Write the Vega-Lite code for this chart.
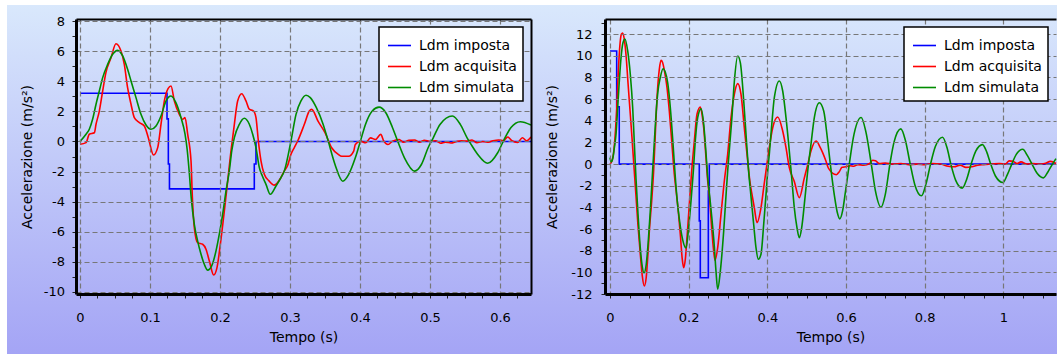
{
  "$schema": "https://vega.github.io/schema/vega-lite/v6.json",
  "background": "white",
  "padding": {"left": 6, "top": 4, "right": 0, "bottom": 0},
  "spacing": -2,
  "resolve": {"scale": {"color": "independent"}, "legend": {"color": "independent"}},
  "config": {
    "view": {"stroke": null},
    "axis": {
      "labelFont": "DejaVu Sans", "labelFontSize": 13, "labelColor": "#000000",
      "titleFont": "DejaVu Sans", "titleFontSize": 14, "titleFontWeight": "normal", "titleColor": "#000000",
      "tickColor": "#222222", "tickSize": 4, "tickWidth": 1,
      "domainColor": "#000000", "domainWidth": 3,
      "gridColor": "#777777", "gridDash": [5, 3], "gridWidth": 1.2,
      "labelOverlap": false, "labelFlush": false
    },
    "legend": {
      "orient": "top-right", "offset": 8, "fillColor": "#ffffff", "strokeColor": "#000000", "strokeWidth": 1.5,
      "padding": 6, "cornerRadius": 0,
      "labelFont": "DejaVu Sans", "labelFontSize": 14, "labelColor": "#000000",
      "symbolType": "stroke", "symbolSize": 529, "symbolStrokeWidth": 1.6, "symbolOffset": 2,
      "rowPadding": 1, "labelOffset": 7
    }
  },
  "datasets": {
    "L_imp": [{"t":0,"a":3.2},{"t":0.1243,"a":1.5},{"t":0.1262,"a":-1.5},{"t":0.1278,"a":-3.15},{"t":0.249,"a":-1.5},{"t":0.2514,"a":0},{"t":0.6443,"a":0}],
    "L_acq": [{"t":0,"a":-0.19},{"t":0.0086,"a":-0.08},{"t":0.0133,"a":0.48},{"t":0.0205,"a":0.58},{"t":0.0229,"a":1.14},{"t":0.0276,"a":2.02},{"t":0.0324,"a":3.35},{"t":0.037,"a":4.57},{"t":0.0443,"a":5.56},{"t":0.0514,"a":6.49},{"t":0.0586,"a":6.0},{"t":0.0633,"a":5.12},{"t":0.068,"a":3.57},{"t":0.0729,"a":2.47},{"t":0.0776,"a":1.58},{"t":0.0848,"a":1.25},{"t":0.0919,"a":1.03},{"t":0.0976,"a":0.25},{"t":0.105,"a":-0.9},{"t":0.111,"a":-0.41},{"t":0.1157,"a":1.14},{"t":0.1205,"a":2.69},{"t":0.126,"a":3.53},{"t":0.13,"a":3.68},{"t":0.1348,"a":2.69},{"t":0.1419,"a":1.8},{"t":0.1467,"a":1.47},{"t":0.15,"a":1.58},{"t":0.1538,"a":0.48},{"t":0.1586,"a":-1.3},{"t":0.1605,"a":-3.7},{"t":0.1633,"a":-5.72},{"t":0.168,"a":-6.72},{"t":0.1752,"a":-6.83},{"t":0.18,"a":-7.16},{"t":0.1848,"a":-7.94},{"t":0.191,"a":-8.87},{"t":0.1957,"a":-8.38},{"t":0.2005,"a":-6.83},{"t":0.2062,"a":-4.62},{"t":0.211,"a":-2.62},{"t":0.2157,"a":-0.63},{"t":0.2205,"a":1.14},{"t":0.2252,"a":2.69},{"t":0.231,"a":3.17},{"t":0.2371,"a":2.69},{"t":0.2419,"a":2.14},{"t":0.248,"a":2.02},{"t":0.2514,"a":1.58},{"t":0.2548,"a":0.03},{"t":0.2586,"a":-1.3},{"t":0.2633,"a":-2.18},{"t":0.27,"a":-2.62},{"t":0.2776,"a":-2.9},{"t":0.287,"a":-2.4},{"t":0.2919,"a":-1.96},{"t":0.2966,"a":-1.6},{"t":0.3014,"a":-0.85},{"t":0.306,"a":-0.42},{"t":0.311,"a":0.03},{"t":0.3205,"a":1.14},{"t":0.3276,"a":2.02},{"t":0.331,"a":2.13},{"t":0.34,"a":1.35},{"t":0.35,"a":0.58},{"t":0.3595,"a":-0.42},{"t":0.369,"a":-0.86},{"t":0.374,"a":-0.98},{"t":0.3837,"a":-0.98},{"t":0.391,"a":-0.64},{"t":0.3933,"a":-0.2},{"t":0.4006,"a":0.02},{"t":0.408,"a":-0.09},{"t":0.415,"a":0.24},{"t":0.422,"a":0.13},{"t":0.4296,"a":0.47},{"t":0.434,"a":0.02},{"t":0.44,"a":-0.2},{"t":0.4465,"a":0.02},{"t":0.456,"a":0.13},{"t":0.462,"a":-0.05},{"t":0.47,"a":0.07},{"t":0.478,"a":0.1},{"t":0.485,"a":-0.05},{"t":0.492,"a":0.08},{"t":0.5,"a":0.0},{"t":0.508,"a":0.05},{"t":0.515,"a":-0.12},{"t":0.522,"a":-0.05},{"t":0.53,"a":-0.1},{"t":0.538,"a":0.0},{"t":0.545,"a":0.05},{"t":0.552,"a":0.02},{"t":0.56,"a":0.1},{"t":0.567,"a":-0.08},{"t":0.575,"a":0.0},{"t":0.582,"a":-0.05},{"t":0.59,"a":0.05},{"t":0.598,"a":0.1},{"t":0.605,"a":0.05},{"t":0.611,"a":0.3},{"t":0.617,"a":0.05},{"t":0.625,"a":-0.07},{"t":0.632,"a":0.25},{"t":0.638,"a":0.05},{"t":0.6443,"a":0.3}],
    "L_sim": [{"t":0,"a":0.0},{"t":0.0086,"a":0.48},{"t":0.0133,"a":0.81},{"t":0.018,"a":1.47},{"t":0.0229,"a":2.47},{"t":0.0276,"a":3.35},{"t":0.0324,"a":4.24},{"t":0.0395,"a":5.12},{"t":0.0467,"a":5.79},{"t":0.0538,"a":6.05},{"t":0.061,"a":5.68},{"t":0.068,"a":4.79},{"t":0.0729,"a":4.02},{"t":0.08,"a":2.91},{"t":0.0871,"a":1.8},{"t":0.0943,"a":1.09},{"t":0.1014,"a":0.81},{"t":0.1086,"a":1.03},{"t":0.1157,"a":1.69},{"t":0.1229,"a":2.69},{"t":0.13,"a":3.02},{"t":0.137,"a":2.58},{"t":0.1443,"a":1.58},{"t":0.15,"a":0.5},{"t":0.153,"a":-0.5},{"t":0.156,"a":-2.0},{"t":0.159,"a":-3.8},{"t":0.1633,"a":-5.5},{"t":0.168,"a":-6.6},{"t":0.1729,"a":-7.49},{"t":0.1776,"a":-8.16},{"t":0.1824,"a":-8.55},{"t":0.1881,"a":-8.27},{"t":0.1943,"a":-7.27},{"t":0.199,"a":-6.16},{"t":0.2038,"a":-4.84},{"t":0.2086,"a":-3.29},{"t":0.2133,"a":-1.96},{"t":0.2169,"a":-0.6},{"t":0.2205,"a":0.25},{"t":0.2276,"a":1.14},{"t":0.2348,"a":1.54},{"t":0.2419,"a":1.14},{"t":0.2467,"a":0.48},{"t":0.2514,"a":-0.41},{"t":0.2562,"a":-1.74},{"t":0.2605,"a":-2.3},{"t":0.2657,"a":-2.85},{"t":0.2719,"a":-3.51},{"t":0.28,"a":-2.96},{"t":0.2871,"a":-2.4},{"t":0.2919,"a":-1.96},{"t":0.3014,"a":0.03},{"t":0.3086,"a":1.8},{"t":0.3157,"a":2.69},{"t":0.3229,"a":3.07},{"t":0.329,"a":2.91},{"t":0.3377,"a":2.24},{"t":0.3474,"a":1.13},{"t":0.3546,"a":0.02},{"t":0.3643,"a":-1.53},{"t":0.3754,"a":-2.64},{"t":0.3837,"a":-2.2},{"t":0.3933,"a":-1.09},{"t":0.4006,"a":0.02},{"t":0.4078,"a":1.13},{"t":0.4175,"a":2.02},{"t":0.4272,"a":2.28},{"t":0.4369,"a":1.91},{"t":0.4465,"a":0.91},{"t":0.4538,"a":0.02},{"t":0.4635,"a":-1.09},{"t":0.478,"a":-1.97},{"t":0.4877,"a":-1.53},{"t":0.4973,"a":-0.42},{"t":0.5046,"a":0.24},{"t":0.5143,"a":1.13},{"t":0.532,"a":1.69},{"t":0.5433,"a":1.13},{"t":0.553,"a":0.24},{"t":0.5586,"a":-0.19},{"t":0.568,"a":-0.85},{"t":0.5824,"a":-1.45},{"t":0.5967,"a":-0.75},{"t":0.606,"a":0.14},{"t":0.6157,"a":0.92},{"t":0.629,"a":1.31},{"t":0.6443,"a":1.09}],
    "R_imp": [{"t":0,"a":10.45},{"t":0.017,"a":5.3},{"t":0.0235,"a":0},{"t":0.227,"a":-5.25},{"t":0.2296,"a":-10.5},{"t":0.25,"a":-2.5},{"t":0.2525,"a":0},{"t":1.134,"a":0}],
    "R_acq": [{"t":0,"a":0.0},{"t":0.005,"a":0.3},{"t":0.009,"a":1.0},{"t":0.013,"a":2.6},{"t":0.0175,"a":5.5},{"t":0.0215,"a":8.8},{"t":0.025,"a":10.9},{"t":0.029,"a":12.0},{"t":0.032,"a":12.1},{"t":0.036,"a":11.6},{"t":0.0407,"a":10.1},{"t":0.046,"a":7.4},{"t":0.051,"a":4.9},{"t":0.056,"a":2.4},{"t":0.0605,"a":0.0},{"t":0.066,"a":-2.9},{"t":0.071,"a":-5.6},{"t":0.077,"a":-8.3},{"t":0.082,"a":-10.3},{"t":0.0873,"a":-11.26},{"t":0.092,"a":-10.5},{"t":0.0965,"a":-8.3},{"t":0.1,"a":-6.2},{"t":0.106,"a":-3.4},{"t":0.111,"a":-0.6},{"t":0.1144,"a":2.1},{"t":0.1195,"a":6.1},{"t":0.1254,"a":8.76},{"t":0.1297,"a":9.58},{"t":0.1335,"a":9.4},{"t":0.139,"a":8.5},{"t":0.145,"a":7.06},{"t":0.1508,"a":4.9},{"t":0.1569,"a":2.13},{"t":0.1635,"a":-0.94},{"t":0.1685,"a":-2.6},{"t":0.174,"a":-4.5},{"t":0.1788,"a":-6.5},{"t":0.1835,"a":-8.7},{"t":0.1873,"a":-9.57},{"t":0.1915,"a":-8.8},{"t":0.1958,"a":-6.8},{"t":0.2017,"a":-3.71},{"t":0.2077,"a":-0.64},{"t":0.2144,"a":2.13},{"t":0.2212,"a":4.6},{"t":0.2296,"a":5.27},{"t":0.234,"a":4.6},{"t":0.2382,"a":3.36},{"t":0.2441,"a":0.59},{"t":0.2484,"a":-1.56},{"t":0.2525,"a":-2.9},{"t":0.2585,"a":-5.87},{"t":0.2627,"a":-7.72},{"t":0.267,"a":-8.89},{"t":0.2738,"a":-7.72},{"t":0.2822,"a":-4.64},{"t":0.2907,"a":-1.56},{"t":0.2992,"a":0.9},{"t":0.3077,"a":4.29},{"t":0.3161,"a":6.45},{"t":0.3247,"a":7.43},{"t":0.333,"a":6.45},{"t":0.3415,"a":3.36},{"t":0.3501,"a":0.29},{"t":0.3555,"a":-1.56},{"t":0.362,"a":-3.0},{"t":0.3669,"a":-4.03},{"t":0.3738,"a":-5.41},{"t":0.3839,"a":-4.03},{"t":0.3908,"a":-2.18},{"t":0.3966,"a":-0.64},{"t":0.405,"a":1.52},{"t":0.4137,"a":3.36},{"t":0.4264,"a":4.35},{"t":0.4391,"a":3.06},{"t":0.4475,"a":1.52},{"t":0.4559,"a":-0.33},{"t":0.4686,"a":-1.6},{"t":0.4813,"a":-3.1},{"t":0.494,"a":-1.3},{"t":0.503,"a":0.0},{"t":0.511,"a":1.21},{"t":0.5238,"a":2.13},{"t":0.5347,"a":1.52},{"t":0.549,"a":0.29},{"t":0.5557,"a":-0.4},{"t":0.5757,"a":-0.98},{"t":0.583,"a":-0.7},{"t":0.59,"a":-0.3},{"t":0.6,"a":-0.25},{"t":0.61,"a":-0.15},{"t":0.62,"a":-0.2},{"t":0.63,"a":-0.05},{"t":0.645,"a":-0.1},{"t":0.66,"a":0.05},{"t":0.668,"a":0.35},{"t":0.675,"a":0.3},{"t":0.685,"a":0.05},{"t":0.7,"a":0.1},{"t":0.72,"a":0.0},{"t":0.74,"a":0.05},{"t":0.76,"a":-0.05},{"t":0.78,"a":0.0},{"t":0.8,"a":-0.05},{"t":0.82,"a":0.05},{"t":0.84,"a":0.0},{"t":0.86,"a":-0.2},{"t":0.875,"a":-0.25},{"t":0.89,"a":-0.1},{"t":0.905,"a":-0.3},{"t":0.92,"a":-0.25},{"t":0.935,"a":-0.1},{"t":0.95,"a":-0.05},{"t":0.97,"a":0.0},{"t":0.99,"a":0.05},{"t":1.005,"a":0.0},{"t":1.015,"a":0.3},{"t":1.025,"a":0.25},{"t":1.035,"a":0.05},{"t":1.045,"a":0.2},{"t":1.06,"a":0.0},{"t":1.075,"a":0.05},{"t":1.09,"a":0.0},{"t":1.105,"a":0.05},{"t":1.12,"a":0.25},{"t":1.134,"a":0.05}],
    "R_sim": [{"t":0,"a":0.6},{"t":0.003,"a":0.2},{"t":0.007,"a":0.5},{"t":0.011,"a":1.5},{"t":0.0153,"a":2.75},{"t":0.0195,"a":5.2},{"t":0.0237,"a":7.67},{"t":0.028,"a":9.8},{"t":0.033,"a":11.2},{"t":0.038,"a":11.55},{"t":0.045,"a":10.45},{"t":0.0516,"a":8.3},{"t":0.0577,"a":5.2},{"t":0.0618,"a":2.0},{"t":0.066,"a":-1.3},{"t":0.071,"a":-4.5},{"t":0.076,"a":-7.3},{"t":0.081,"a":-9.2},{"t":0.0865,"a":-10.05},{"t":0.092,"a":-9.3},{"t":0.097,"a":-7.3},{"t":0.102,"a":-4.6},{"t":0.107,"a":-1.5},{"t":0.112,"a":1.6},{"t":0.117,"a":4.6},{"t":0.1215,"a":6.6},{"t":0.1279,"a":8.0},{"t":0.135,"a":8.8},{"t":0.1405,"a":8.5},{"t":0.1467,"a":7.5},{"t":0.1534,"a":5.2},{"t":0.1602,"a":1.9},{"t":0.166,"a":-1.2},{"t":0.171,"a":-3.4},{"t":0.177,"a":-5.3},{"t":0.1848,"a":-7.0},{"t":0.1932,"a":-7.75},{"t":0.1991,"a":-6.2},{"t":0.206,"a":-3.4},{"t":0.212,"a":-0.6},{"t":0.217,"a":2.2},{"t":0.223,"a":4.3},{"t":0.2315,"a":5.1},{"t":0.2385,"a":3.6},{"t":0.2441,"a":1.0},{"t":0.2484,"a":-1.2},{"t":0.2535,"a":-3.0},{"t":0.2585,"a":-4.8},{"t":0.2652,"a":-7.6},{"t":0.2695,"a":-9.9},{"t":0.2738,"a":-11.55},{"t":0.2805,"a":-9.9},{"t":0.2891,"a":-6.18},{"t":0.2957,"a":-2.48},{"t":0.2995,"a":-0.5},{"t":0.3045,"a":1.8},{"t":0.3094,"a":4.0},{"t":0.3161,"a":7.6},{"t":0.3247,"a":9.98},{"t":0.3314,"a":9.37},{"t":0.34,"a":5.83},{"t":0.3458,"a":2.75},{"t":0.3517,"a":-0.33},{"t":0.3585,"a":-3.0},{"t":0.3654,"a":-5.6},{"t":0.3712,"a":-7.72},{"t":0.3771,"a":-8.79},{"t":0.3839,"a":-8.33},{"t":0.3908,"a":-5.56},{"t":0.3974,"a":-2.48},{"t":0.401,"a":-0.64},{"t":0.405,"a":0.9},{"t":0.4112,"a":3.6},{"t":0.4178,"a":6.13},{"t":0.4305,"a":7.68},{"t":0.4391,"a":6.75},{"t":0.4475,"a":4.29},{"t":0.4559,"a":1.21},{"t":0.462,"a":-1.26},{"t":0.4686,"a":-4.03},{"t":0.4754,"a":-5.87},{"t":0.4813,"a":-6.8},{"t":0.4874,"a":-5.87},{"t":0.4958,"a":-3.1},{"t":0.5027,"a":-0.64},{"t":0.511,"a":1.83},{"t":0.5195,"a":4.29},{"t":0.5322,"a":5.67},{"t":0.5434,"a":4.9},{"t":0.5535,"a":2.13},{"t":0.5605,"a":-0.1},{"t":0.5705,"a":-2.9},{"t":0.5775,"a":-4.4},{"t":0.5843,"a":-5.06},{"t":0.5915,"a":-4.3},{"t":0.5985,"a":-2.6},{"t":0.6084,"a":0.0},{"t":0.6185,"a":2.4},{"t":0.6386,"a":4.3},{"t":0.6505,"a":3.0},{"t":0.6644,"a":0.0},{"t":0.675,"a":-2.5},{"t":0.689,"a":-3.98},{"t":0.7,"a":-2.8},{"t":0.7117,"a":0.0},{"t":0.722,"a":2.0},{"t":0.7395,"a":3.25},{"t":0.751,"a":2.2},{"t":0.7633,"a":0.0},{"t":0.775,"a":-1.9},{"t":0.792,"a":-2.93},{"t":0.803,"a":-1.9},{"t":0.815,"a":0.0},{"t":0.827,"a":1.6},{"t":0.8455,"a":2.48},{"t":0.857,"a":1.5},{"t":0.8666,"a":0.0},{"t":0.879,"a":-1.5},{"t":0.8958,"a":-2.22},{"t":0.907,"a":-1.4},{"t":0.9182,"a":0.0},{"t":0.93,"a":1.2},{"t":0.947,"a":1.8},{"t":0.958,"a":1.1},{"t":0.968,"a":0.0},{"t":0.98,"a":-1.1},{"t":0.999,"a":-1.7},{"t":1.01,"a":-1.0},{"t":1.0215,"a":0.0},{"t":1.033,"a":0.9},{"t":1.0495,"a":1.37},{"t":1.061,"a":0.8},{"t":1.073,"a":0.0},{"t":1.085,"a":-0.8},{"t":1.102,"a":-1.27},{"t":1.113,"a":-0.75},{"t":1.125,"a":0.0},{"t":1.134,"a":0.5}]
  },
  "hconcat": [
    {
      "width": 455, "height": 275,
      "resolve": {"axis": {"x": "independent", "y": "independent"}},
      "layer": [
        {
          "data": {"values": [{}]},
          "mark": {"type": "rect", "clip": false, "fill": {"gradient": "linear", "x1": 0, "y1": 0, "x2": 0, "y2": 1, "stops": [{"offset": 0, "color": "#d9e8fc"}, {"offset": 1, "color": "#a4a4f5"}]}},
          "encoding": {
            "x": {"datum": -0.104286, "type": "quantitative", "scale": {"domain": [-0.005714, 0.644286], "nice": false, "zero": false},
              "axis": {"zindex": 1, "values": [0,0.025,0.05,0.075,0.1,0.125,0.15,0.175,0.2,0.225,0.25,0.275,0.3,0.325,0.35,0.375,0.4,0.425,0.45,0.475,0.5,0.525,0.55,0.575,0.6,0.625],
                "labelExpr": "abs(datum.value*10-round(datum.value*10))<0.001 ? ''+datum.value : ''",
                "grid": true,
                "gridOpacity": {"condition": {"test": "abs(datum.value*10-round(datum.value*10))<0.001", "value": 1}, "value": 0},
                "labelPadding": 13, "title": "Tempo (s)", "titlePadding": 6}},
            "x2": {"datum": 0.655714},
            "y": {"datum": 9.0629, "type": "quantitative", "scale": {"domain": [-10.133, 8.133], "nice": false, "zero": false},
              "axis": {"zindex": 1, "values": [-10,-9,-8,-7,-6,-5,-4,-3,-2,-1,0,1,2,3,4,5,6,7,8],
                "labelExpr": "abs(datum.value/2-round(datum.value/2))<0.001 ? ''+datum.value : ''",
                "grid": true,
                "gridOpacity": {"condition": {"test": "abs(datum.value/2-round(datum.value/2))<0.001", "value": 1}, "value": 0},
                "labelPadding": 7.5, "title": "Accelerazione (m/s²)", "titlePadding": 9}},
            "y2": {"datum": -14.1582}
          }
        },
        {
          "data": {"name": "L_imp"},
          "mark": {"type": "line", "interpolate": "step-after", "strokeWidth": 1.6},
          "encoding": {
            "x": {"field": "t", "type": "quantitative", "scale": {"domain": [-0.005714, 0.644286], "nice": false, "zero": false},
              "axis": {"zindex": 1, "orient": "top", "labels": false, "ticks": false, "grid": false, "domainWidth": 2, "title": null}},
            "y": {"field": "a", "type": "quantitative", "scale": {"domain": [-10.133, 8.133], "nice": false, "zero": false},
              "axis": {"zindex": 1, "orient": "right", "labels": false, "ticks": false, "grid": false, "domainWidth": 2, "title": null}},
            "color": {"datum": "Ldm imposta", "type": "nominal", "scale": {"domain": ["Ldm imposta", "Ldm acquisita", "Ldm simulata"], "range": ["#0000ff", "#ff0000", "#008c00"]}, "legend": {"title": null, "zindex": 2}}
          }
        },
        {
          "data": {"name": "L_acq"},
          "mark": {"type": "line", "interpolate": "monotone", "strokeWidth": 1.6},
          "encoding": {
            "x": {"field": "t", "type": "quantitative", "scale": {"domain": [-0.005714, 0.644286], "nice": false, "zero": false}, "axis": null},
            "y": {"field": "a", "type": "quantitative", "scale": {"domain": [-10.133, 8.133], "nice": false, "zero": false}, "axis": null},
            "color": {"datum": "Ldm acquisita", "type": "nominal", "legend": {"title": null, "zindex": 2}}
          }
        },
        {
          "data": {"name": "L_sim"},
          "mark": {"type": "line", "interpolate": "monotone", "strokeWidth": 1.6},
          "encoding": {
            "x": {"field": "t", "type": "quantitative", "scale": {"domain": [-0.005714, 0.644286], "nice": false, "zero": false}, "axis": null},
            "y": {"field": "a", "type": "quantitative", "scale": {"domain": [-10.133, 8.133], "nice": false, "zero": false}, "axis": null},
            "color": {"datum": "Ldm simulata", "type": "nominal", "legend": {"title": null, "zindex": 2}}
          }
        }
      ]
    },
    {
      "width": 451, "height": 275,
      "resolve": {"axis": {"x": "independent", "y": "independent"}},
      "layer": [
        {
          "data": {"values": [{}]},
          "mark": {"type": "rect", "clip": false, "fill": {"gradient": "linear", "x1": 0, "y1": 0, "x2": 0, "y2": 1, "stops": [{"offset": 0, "color": "#d9e8fc"}, {"offset": 1, "color": "#a4a4f5"}]}},
          "encoding": {
            "x": {"datum": -0.185609, "type": "quantitative", "scale": {"domain": [-0.012713, 1.133995], "nice": false, "zero": false},
              "axis": {"zindex": 1, "values": [0,0.05,0.1,0.15,0.2,0.25,0.3,0.35,0.4,0.45,0.5,0.55,0.6,0.65,0.7,0.75,0.8,0.85,0.9,0.95,1,1.05,1.1],
                "labelExpr": "abs(datum.value*5-round(datum.value*5))<0.001 ? ''+datum.value : ''",
                "grid": true,
                "gridOpacity": {"condition": {"test": "abs(datum.value*5-round(datum.value*5))<0.001", "value": 1}, "value": 0},
                "labelPadding": 13, "title": "Tempo (s)", "titlePadding": 6}},
            "x2": {"datum": 1.13806},
            "y": {"datum": 14.6931, "type": "quantitative", "scale": {"domain": [-12, 13.4], "nice": false, "zero": false},
              "axis": {"zindex": 1, "values": [-12,-11,-10,-9,-8,-7,-6,-5,-4,-3,-2,-1,0,1,2,3,4,5,6,7,8,9,10,11,12,13],
                "labelExpr": "abs(datum.value/2-round(datum.value/2))<0.001 && datum.value<13 ? ''+datum.value : ''",
                "grid": true,
                "gridOpacity": {"condition": {"test": "abs(datum.value/2-round(datum.value/2))<0.001", "value": 1}, "value": 0},
                "labelPadding": 9, "title": "Accelerazione (m/s²)", "titlePadding": 11.5}},
            "y2": {"datum": -17.5972}
          }
        },
        {
          "data": {"name": "R_imp"},
          "mark": {"type": "line", "interpolate": "step-after", "strokeWidth": 1.6},
          "encoding": {
            "x": {"field": "t", "type": "quantitative", "scale": {"domain": [-0.012713, 1.133995], "nice": false, "zero": false},
              "axis": {"zindex": 1, "orient": "top", "labels": false, "ticks": false, "grid": false, "domainWidth": 2, "title": null}},
            "y": {"field": "a", "type": "quantitative", "scale": {"domain": [-12, 13.4], "nice": false, "zero": false}, "axis": null},
            "color": {"datum": "Ldm imposta", "type": "nominal", "scale": {"domain": ["Ldm imposta", "Ldm acquisita", "Ldm simulata"], "range": ["#0000ff", "#ff0000", "#008c00"]}, "legend": {"title": null, "zindex": 2}}
          }
        },
        {
          "data": {"name": "R_acq"},
          "mark": {"type": "line", "interpolate": "monotone", "strokeWidth": 1.6},
          "encoding": {
            "x": {"field": "t", "type": "quantitative", "scale": {"domain": [-0.012713, 1.133995], "nice": false, "zero": false}, "axis": null},
            "y": {"field": "a", "type": "quantitative", "scale": {"domain": [-12, 13.4], "nice": false, "zero": false}, "axis": null},
            "color": {"datum": "Ldm acquisita", "type": "nominal", "legend": {"title": null, "zindex": 2}}
          }
        },
        {
          "data": {"name": "R_sim"},
          "mark": {"type": "line", "interpolate": "monotone", "strokeWidth": 1.6},
          "encoding": {
            "x": {"field": "t", "type": "quantitative", "scale": {"domain": [-0.012713, 1.133995], "nice": false, "zero": false}, "axis": null},
            "y": {"field": "a", "type": "quantitative", "scale": {"domain": [-12, 13.4], "nice": false, "zero": false}, "axis": null},
            "color": {"datum": "Ldm simulata", "type": "nominal", "legend": {"title": null, "zindex": 2}}
          }
        }
      ]
    }
  ]
}
